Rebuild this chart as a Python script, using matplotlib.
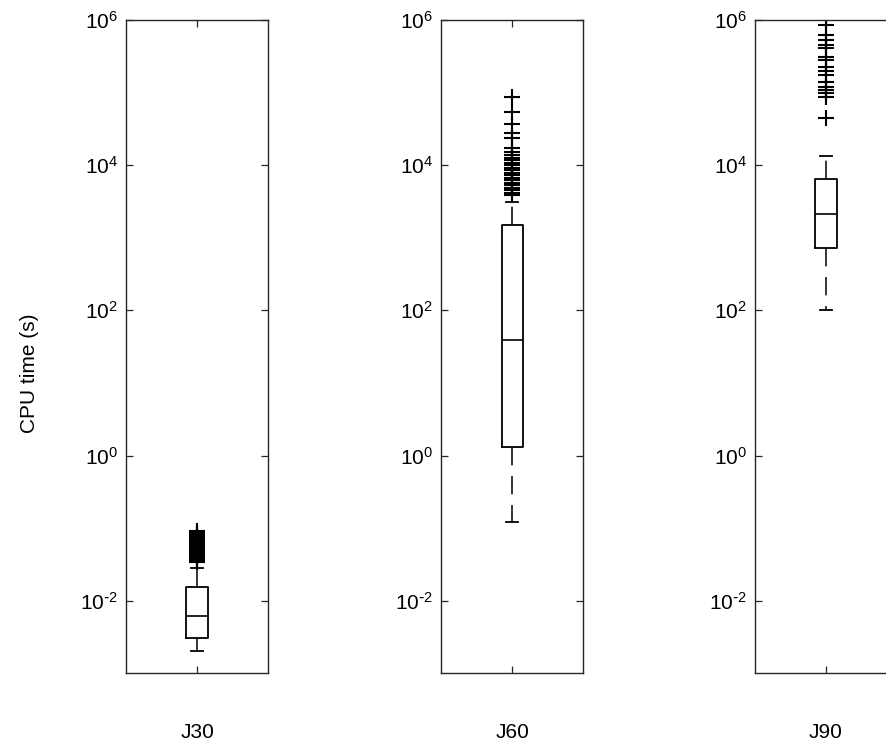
#!/usr/bin/env python3
"""CPU time boxplots for J30 / J60 / J90 instances (MATLAB-style)."""

import math

import matplotlib

matplotlib.use("Agg")
import matplotlib.pyplot as plt
from matplotlib.ticker import FuncFormatter, NullLocator

# ==================== data ====================
GROUPS = ["J30", "J60", "J90"]

# box statistics (seconds)
MEDIANS = [0.0061, 39.0, 2120.0]
Q1 = [0.00305, 1.33, 723.0]
Q3 = [0.0153, 1496.0, 6420.0]
WHISK_LO = [0.00202, 0.12, 100.0]
WHISK_HI = [0.028, 3100.0, 13300.0]

OUTLIERS_J30 = [0.034, 0.036, 0.0385, 0.040, 0.0423, 0.044, 0.0465, 0.049,
                0.051, 0.053, 0.056, 0.059, 0.062, 0.065, 0.068, 0.071,
                0.0745, 0.078, 0.082, 0.086, 0.090]
OUTLIERS_J60 = [3850, 4200, 4500, 4900, 5300, 5700, 6200, 6700, 7300, 7900,
                8500, 9200, 9900, 10700, 11600, 12600, 13700, 15200, 17000,
                23500, 27500, 37500, 53500, 86000]
OUTLIERS_J90 = [44300, 86100, 97800, 107000, 118000, 138000, 173000,
                196000, 222000, 278000, 305000, 405000, 446000, 523000,
                612000, 840000]
OUTLIERS = [OUTLIERS_J30, OUTLIERS_J60, OUTLIERS_J90]

Y_TICKS = [1e-2, 1e0, 1e2, 1e4, 1e6]
Y_LIM = (1e-3, 1e6)

# ==================== style ====================
FIG_W, FIG_H, DPI = 8.87, 7.49, 100
AX_LEFTS = [0.1421, 0.4977, 0.8512]
AX_BOTTOM, AX_W, AX_H = 0.1011, 0.1601, 0.8722
SPINE_COLOR = "#262626"
FONT_SIZE = 15

plt.rcParams["font.family"] = ["Liberation Sans", "DejaVu Sans"]
plt.rcParams["mathtext.default"] = "regular"
plt.rcParams["axes.unicode_minus"] = False
plt.rcParams["font.size"] = FONT_SIZE


def pow10_label(v, pos):
    # MATLAB writes a plain hyphen in the exponent, not a minus sign
    e = int(round(math.log10(v)))
    exp = str(e) if e >= 0 else r"\text{-}" + str(-e)
    return r"$10^{" + exp + "}$"


def draw_box(ax, i):
    stats = [{
        "med": MEDIANS[i],
        "q1": Q1[i],
        "q3": Q3[i],
        "whislo": WHISK_LO[i],
        "whishi": WHISK_HI[i],
        "fliers": OUTLIERS[i],
        "label": GROUPS[i],
    }]
    ax.bxp(
        stats,
        positions=[1],
        widths=0.15,
        capwidths=0.085,
        showfliers=True,
        boxprops=dict(color="black", linewidth=1.3),
        medianprops=dict(color="black", linewidth=1.2),
        whiskerprops=dict(color="black", linewidth=1.1, linestyle=(0, (12, 7))),
        capprops=dict(color="black", linewidth=1.3),
        flierprops=dict(marker="+", markersize=12, markeredgecolor="black",
                        markeredgewidth=1.5, linestyle="none"),
    )

    ax.set_yscale("log")
    ax.set_ylim(*Y_LIM)
    ax.set_xlim(0.5, 1.5)
    ax.set_yticks(Y_TICKS)
    ax.yaxis.set_minor_locator(NullLocator())
    ax.yaxis.set_major_formatter(FuncFormatter(pow10_label))
    ax.set_xticks([1])
    ax.set_xticklabels([GROUPS[i]])

    ax.tick_params(axis="y", which="both", direction="in", length=5,
                   width=0.9, color=SPINE_COLOR, left=True, right=True,
                   pad=6, labelsize=FONT_SIZE)
    ax.tick_params(axis="x", direction="in", length=5, width=0.9,
                   color=SPINE_COLOR, top=True, bottom=True, pad=36,
                   labelsize=FONT_SIZE)
    for sp in ax.spines.values():
        sp.set_color(SPINE_COLOR)
        sp.set_linewidth(1.0)


def main():
    fig = plt.figure(figsize=(FIG_W, FIG_H), dpi=DPI)
    for i, left in enumerate(AX_LEFTS):
        ax = fig.add_axes([left, AX_BOTTOM, AX_W, AX_H])
        draw_box(ax, i)
        if i == 0:
            ax.set_ylabel("CPU time (s)", fontsize=FONT_SIZE)
            ax.yaxis.set_label_coords(-0.61, 0.46)

    fig.savefig("out.png", dpi=DPI)
    plt.close(fig)


if __name__ == "__main__":
    main()
